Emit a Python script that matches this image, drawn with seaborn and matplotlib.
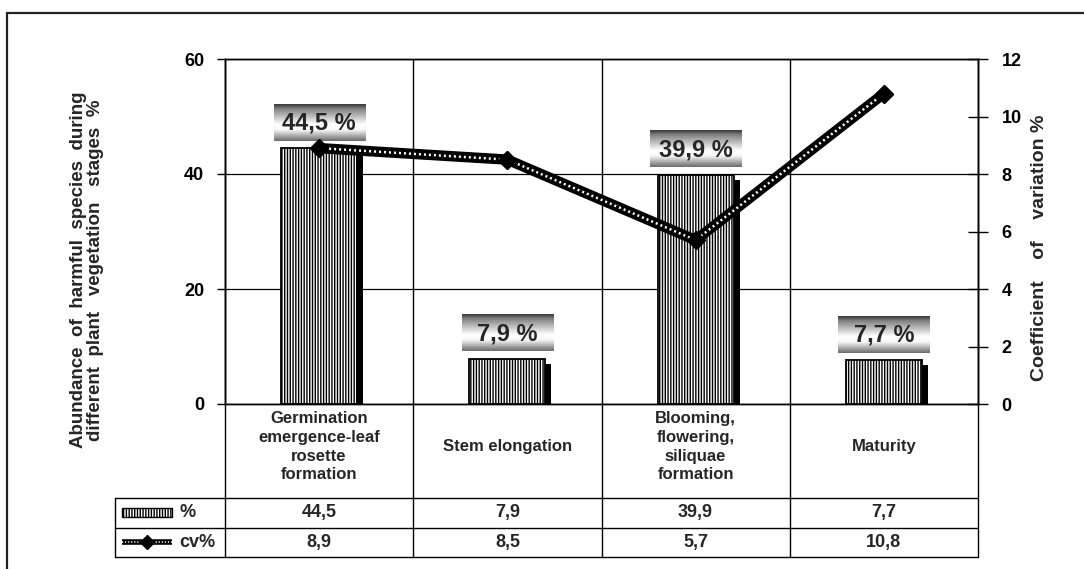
import numpy as np
import pandas as pd
import matplotlib
matplotlib.use("Agg")
import matplotlib.pyplot as plt
import matplotlib.transforms as mtransforms
from matplotlib.patches import Rectangle
import seaborn as sns

# ---- data -------------------------------------------------------------
stages = [
    "Germination\nemergence-leaf\nrosette\nformation",
    "Stem elongation",
    "Blooming,\nflowering,\nsiliquae\nformation",
    "Maturity",
]
abundance = [44.5, 7.9, 39.9, 7.7]   # % of harmful species
cv = [8.9, 8.5, 5.7, 10.8]           # coefficient of variation, %
left_ticks = [0, 20, 40, 60]
right_ticks = [0, 2, 4, 6, 8, 10, 12]
row_names = ["%", "cv%"]

left_label = ("Abundance  of  harmful  species  during\n"
              "different  plant   vegetation   stages  %")
right_label = "Coefficient    of    variation %"

# ---- style ------------------------------------------------------------
sns.set_theme(style="white")
plt.rcParams["font.family"] = ["Liberation Sans", "DejaVu Sans"]
plt.rcParams["font.weight"] = "bold"
plt.rcParams["hatch.linewidth"] = 1.0
plt.rcParams["hatch.color"] = "black"

W, H = 1084, 569
fig = plt.figure(figsize=(W / 100, H / 100), dpi=100)
ax = fig.add_axes([225 / W, 1 - 404 / H, 753 / W, 345 / H])

df = pd.DataFrame({"stage": stages, "abundance": abundance, "cv": cv})
fmt = lambda v: f"{v:.1f}".replace(".", ",")
x = np.arange(len(stages))
bar_w = 0.404

# ---- bars -------------------------------------------------------------
sns.barplot(data=df, x="stage", y="abundance", ax=ax, width=bar_w,
            color="white", edgecolor="black", linewidth=1.3,
            saturation=1, zorder=3)
for p in ax.patches:
    p.set_hatch("||||||")
# drop shadow on the right of each bar
ax.bar(x + 0.032, np.array(abundance) - 0.9, width=bar_w,
       color="black", linewidth=0, zorder=2)

# value boxes with a grey gradient
t = np.linspace(0, 1, 80)
grad = np.interp(t, [0, 0.12, 0.55, 0.7, 1.0], [0.22, 0.5, 1.0, 0.97, 0.42])
grad = np.tile(grad[:, None], (1, 4))
for xi, v in zip(x, abundance):
    ax.imshow(grad, extent=[xi - 0.242, xi + 0.242, v + 1.25, v + 7.55],
              aspect="auto", cmap="gray", vmin=0, vmax=1, zorder=4,
              interpolation="bicubic")
    ax.text(xi, v + 4.3, fmt(v) + " %", ha="center", va="center",
            fontsize=17, fontweight="bold", zorder=5)

ax.set_xlim(-0.5, 3.5)
ax.set_ylim(0, 60)
ax.set_yticks(left_ticks)
ax.set_xticks([])
ax.set_xlabel("")
ax.set_ylabel("")
ax.yaxis.grid(True, color="black", linewidth=0.9)
ax.set_axisbelow(True)
ax.tick_params(axis="y", direction="out", length=6, width=1, pad=9,
               labelsize=13, colors="black", left=True)
for s in ax.spines.values():
    s.set_color("black")
    s.set_linewidth(1)
    s.set_visible(True)

# ---- coefficient of variation line -------------------------------------
ax2 = ax.twinx()
sns.lineplot(x=x, y=cv, ax=ax2, color="black", linewidth=7.5,
             marker="D", markersize=9, markeredgecolor="black")
ax2.plot(x, cv, color="white", linewidth=1.8, linestyle=(0, (0.8, 1.2)),
         solid_capstyle="butt")
ax2.plot(x, cv, linestyle="none", marker="D", markersize=9, color="black")
ax2.set_ylim(0, 12)
ax2.set_yticks(right_ticks)
ax2.set_ylabel("")
ax2.tick_params(axis="y", direction="inout", length=14, width=1, pad=10,
                labelsize=13, colors="black", right=True)
for s in ax2.spines.values():
    s.set_color("black")
    s.set_linewidth(1)

# ---- category labels and data table under the axes --------------------
tr = mtransforms.blended_transform_factory(ax.transData, ax.transAxes)
y_cat = -0.272
y_row1 = -0.359
y_row2 = -0.443
x_tab_left = -1.084

line_kw = dict(color="black", linewidth=1, transform=tr, clip_on=False)
for b in [-0.5, 0.5, 1.5, 2.5, 3.5]:
    ax.plot([b, b], [1, y_row2], **line_kw)
for yy in [y_cat, y_row1, y_row2]:
    ax.plot([x_tab_left, 3.5], [yy, yy], **line_kw)
ax.plot([x_tab_left, x_tab_left], [y_cat, y_row2], **line_kw)

for xi, name in zip(x, stages):
    ax.text(xi, -0.124, name, transform=tr, ha="center", va="center",
            fontsize=12, fontweight="bold", linespacing=1.3)

y_mid1 = (y_cat + y_row1) / 2
y_mid2 = (y_row1 + y_row2) / 2
for xi, a, c in zip(x, abundance, cv):
    ax.text(xi, y_mid1, fmt(a), transform=tr, ha="center", va="center",
            fontsize=13, fontweight="bold")
    ax.text(xi, y_mid2, fmt(c), transform=tr, ha="center", va="center",
            fontsize=13, fontweight="bold")

# row keys
ax.add_patch(Rectangle((-1.047, y_mid1 - 0.013), 0.266, 0.026,
                       transform=tr, facecolor="white", edgecolor="black",
                       linewidth=1, hatch="||||||", clip_on=False))
ax.plot([-1.047, -0.781], [y_mid2, y_mid2], color="black", linewidth=4,
        transform=tr, clip_on=False, solid_capstyle="butt")
ax.plot([-1.047, -0.781], [y_mid2, y_mid2], color="white", linewidth=1.1,
        linestyle=(0, (0.8, 1.2)), transform=tr, clip_on=False)
ax.plot([-0.914], [y_mid2], marker="D", markersize=7, color="black",
        transform=tr, clip_on=False)
ax.text(-0.744, y_mid1, row_names[0], transform=tr, ha="left", va="center",
        fontsize=13, fontweight="bold")
ax.text(-0.744, y_mid2, row_names[1], transform=tr, ha="left", va="center",
        fontsize=13, fontweight="bold")

# ---- axis titles ------------------------------------------------------
fig.text(87 / W, 1 - 270 / H, left_label, rotation=90, ha="center",
         va="center", fontsize=13.5, fontweight="bold", linespacing=1.05,
         multialignment="center")
fig.text(1040 / W, 1 - 248 / H, right_label, rotation=90, ha="center",
         va="center", fontsize=14, fontweight="bold")

# outer frame
fig.add_artist(Rectangle((7 / W, -0.2), 1.2, 1.2 - 13 / H, transform=fig.transFigure,
                         fill=False, edgecolor="#222222", linewidth=1.6))

fig.savefig("out.png", dpi=100)
